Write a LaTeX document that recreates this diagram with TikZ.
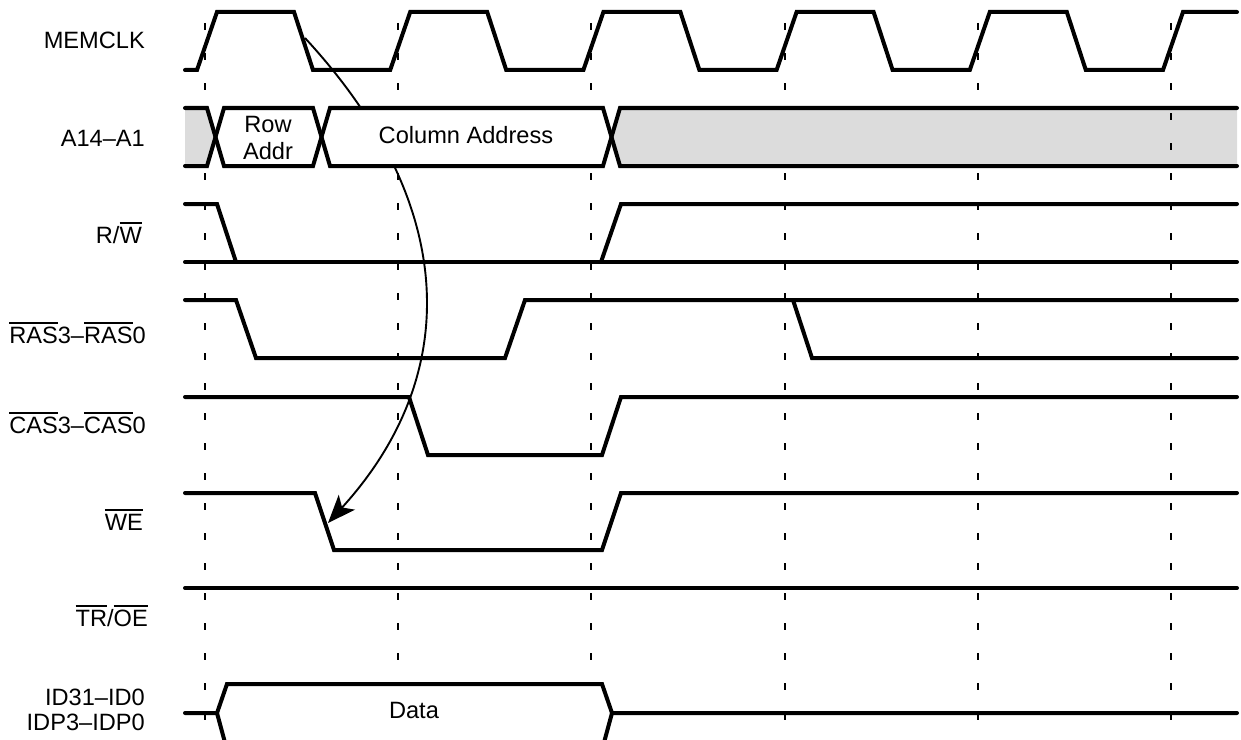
\documentclass[tikz,border=0pt]{standalone}
\usepackage{fontspec}
\setmainfont{Liberation Sans}
\usetikzlibrary{arrows.meta}
\newcommand\ovl[1]{\leavevmode\vbox{\hrule height 1.8bp\kern 3bp\hbox{#1}}}
\definecolor{busgray}{HTML}{DCDCDC}
\begin{document}
\begin{tikzpicture}[x=1bp,y=-1bp,
  sig/.style={line width=4bp, line cap=round, line join=miter},
  gridline/.style={line width=2bp, dash pattern=on 7bp off 23bp},
  lbl/.style={anchor=base east, inner sep=0pt, font=\fontsize{23.7}{25}\selectfont},
  txt/.style={anchor=base, inner sep=0pt, align=center, font=\fontsize{23.7}{26.5}\selectfont},
  causal/.style={line width=1.9bp, -{Stealth[length=28bp,width=22bp,inset=7bp]}}
]
\useasboundingbox (0,0) rectangle (1241,740);

% clock reference lines
\foreach \x in {205,398.2,591.4,784.6,977.8}
  \draw[gridline] (\x,23) -- (\x,745);

% causal arrow (drawn under the bus boxes)
\coordinate (arrS) at (305,38);
\coordinate (arrE) at (328,523);
\draw[causal] (arrS) .. controls (462,208) and (460,378) .. (arrE);

% A14-A1 bus fills
\fill[busgray] (185,108) -- (207,108) -- (215.5,137) -- (207,166) -- (185,166) -- cycle;
\fill[busgray] (1237,108) -- (620,108) -- (611.5,137) -- (620,166) -- (1237,166) -- cycle;
\fill[white] (215.5,137) -- (224,108) -- (313,108) -- (321.5,137) -- (313,166) -- (224,166) -- cycle;
\fill[white] (321.5,137) -- (330,108) -- (603,108) -- (611.5,137) -- (603,166) -- (330,166) -- cycle;
% data bus fill
\fill[white] (217,713) -- (227,684) -- (602,684) -- (612,713) -- (602,742) -- (227,742) -- cycle;

% last reference line (drawn over the grey)
\draw[gridline] (1171,23) -- (1171,745);

% MEMCLK
\draw[sig] (185,70) -- (197,70) -- (217,12) -- (294,12) -- (313,70) -- (390.2,70) -- (410.2,12) -- (487.2,12) -- (506.2,70) -- (583.4,70) -- (603.4,12) -- (680.4,12) -- (699.4,70) -- (776.6,70) -- (796.6,12) -- (873.6,12) -- (892.6,70) -- (969.8,70) -- (989.8,12) -- (1066.8,12) -- (1085.8,70) -- (1163,70) -- (1183,12) -- (1237,12);

% A14-A1
\draw[sig] (185,108) -- (207,108) -- (224,166) -- (313,166) -- (330,108) -- (603,108) -- (620,166) -- (1237,166);
\draw[sig] (185,166) -- (207,166) -- (224,108) -- (313,108) -- (330,166) -- (603,166) -- (620,108) -- (1237,108);

% R/W
\draw[sig] (185,204) -- (217,204) -- (236,262);
\draw[sig] (185,262) -- (1237,262);
\draw[sig] (601,262) -- (621,204) -- (1237,204);

% RAS
\draw[sig] (185,300) -- (236,300) -- (256,358) -- (505,358) -- (525,300) -- (1237,300);
\draw[sig] (793,300) -- (812,358) -- (1237,358);

% CAS
\draw[sig] (185,397) -- (409,397) -- (428,455) -- (602,455) -- (621,397) -- (1237,397);

% WE
\draw[sig] (185,493) -- (315,493) -- (334,550) -- (602,550) -- (621,493) -- (1237,493);

% TR/OE
\draw[sig] (185,588) -- (1237,588);

% ID31-ID0
\draw[sig] (185,713) -- (217,713) -- (227,684) -- (602,684) -- (612,713) -- (1237,713);
\draw[sig] (217,713) -- (227,750);
\draw[sig] (612,713) -- (602,750);

% labels
\node[lbl] (lclk) at (145,49) {MEMCLK};
\node[lbl] (laddr) at (145,146) {A14–A1};
\node[lbl] (lrw) at (142,243) {R/\ovl{W}};
\node[lbl] (lras) at (146,343) {\ovl{RAS}3–\ovl{RAS}0};
\node[lbl] (lcas) at (146,433) {\ovl{CAS}3–\ovl{CAS}0};
\node[lbl] (lwe) at (143,530) {\ovl{WE}};
\node[lbl] (ltr) at (148,626) {\ovl{TR}/\ovl{OE}};
\node[lbl] (lid) at (145,705) {ID31–ID0};
\node[lbl] (lidp) at (145,730) {IDP3–IDP0};

% bus texts
\node[txt] (trow) at (268,132) {Row};
\node[txt] (taddr) at (268,159) {Addr};
\node[txt] (tcol) at (466,143) {Column Address};
\node[txt] (tdata) at (414,718) {Data};
\end{tikzpicture}
\end{document}
